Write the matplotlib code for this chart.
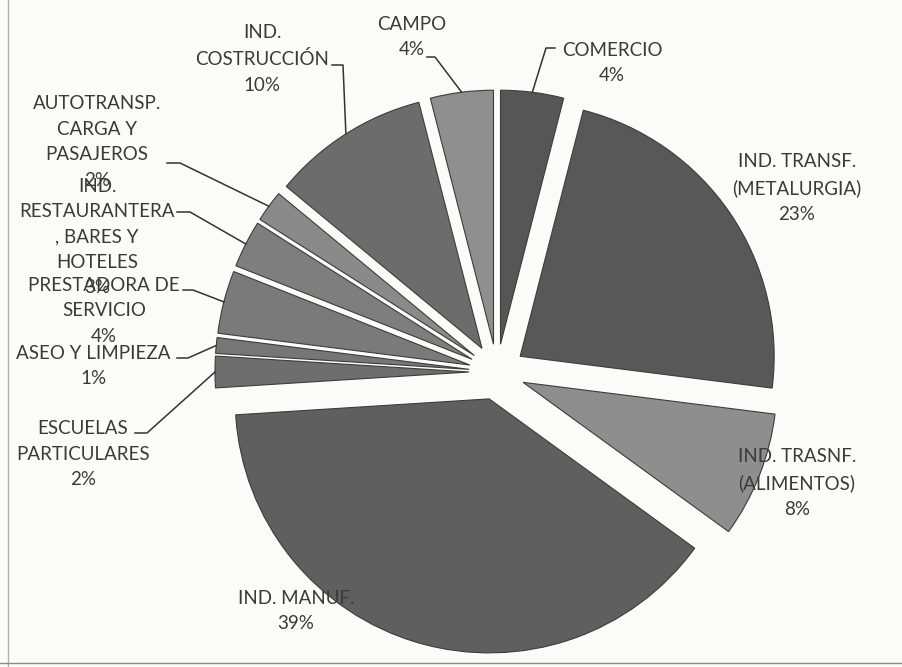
# System Modules
import matplotlib
matplotlib.use("Agg")
import matplotlib.pyplot as plt
import numpy             as np

##-----------------------------------------------------------------------
# Data (clockwise from 12 o'clock)
sectores = ["COMERCIO",
            "IND. TRANSF.\n(METALURGIA)",
            "IND. TRASNF.\n(ALIMENTOS)",
            "IND. MANUF.",
            "ESCUELAS\nPARTICULARES",
            "ASEO Y LIMPIEZA",
            "PRESTADORA DE\nSERVICIO",
            "IND.\nRESTAURANTERA\n, BARES Y\nHOTELES",
            "AUTOTRANSP.\nCARGA Y\nPASAJEROS",
            "IND.\nCOSTRUCCIÓN",
            "CAMPO"]
porcentajes = [4, 23, 8, 39, 2, 1, 4, 3, 2, 10, 4]

colores = ["#565656", "#585858", "#8e8e8e", "#5f5f5f", "#6e6e6e", "#767676",
           "#7a7a7a", "#7e7e7e", "#8a8a8a", "#6c6c6c", "#8f8f8f"]

##-----------------------------------------------------------------------
# Layout (image pixel coords, y down)
W, H = 902, 667
centro = (497, 372)
radio = 254
separacion = 28

# label centre (x, y)
pos_label = [(612, 63), (797, 188), (797, 483), (296, 611), (83, 454),
             (93, 366), (104, 311), (97, 237), (97, 142), (262, 59), (412, 37)]
# leader stub (x_start, x_end, y) or None
stubs = [(555, 546, 48), None, None, None, (135, 147, 433),
         (177, 188, 358), (183, 193, 290), (177, 190, 212), (167, 180, 163),
         (332, 343, 65), (427, 435, 57)]

plt.rcParams['font.family'] = ['Lato', 'DejaVu Sans']

fig = plt.figure(figsize=(W / 100, H / 100), dpi=100)
fig.patch.set_facecolor("#fbfbf9")
ax = fig.add_axes([0, 0, 1, 1])
ax.set_facecolor("#fbfbf9")

wedges, _ = ax.pie(porcentajes, colors=colores, startangle=90, counterclock=False,
                   explode=[separacion] * len(porcentajes), radius=radio,
                   center=(centro[0], H - centro[1]),
                   wedgeprops=dict(edgecolor="#3c3c3c", linewidth=0.8))

ax.set_xlim(0, W)
ax.set_ylim(0, H)
ax.set_aspect("equal")
ax.axis("off")

# Labels and leader lines
for w, nombre, pct, (lx, ly), stub in zip(wedges, sectores, porcentajes, pos_label, stubs):
    ax.text(lx, H - ly, "%s\n%d%%" % (nombre, pct), ha="center", va="center",
            fontsize=13.5, color="#3a3a3a", linespacing=1.6)
    if stub is None:
        continue
    th = np.deg2rad((w.theta1 + w.theta2) / 2.0)
    px = w.center[0] + w.r * np.cos(th)
    py = w.center[1] + w.r * np.sin(th)
    ax.plot([stub[0], stub[1], px], [H - stub[2], H - stub[2], py],
            color="#333333", linewidth=1.1)

# scan frame edges
ax.plot([8, 8], [0, H], color="#b0b0b0", linewidth=1.0)
ax.plot([0, W], [H - 663, H - 663], color="#8a8a8a", linewidth=1.0)

plt.savefig("out.png", dpi=100, facecolor=fig.get_facecolor())
